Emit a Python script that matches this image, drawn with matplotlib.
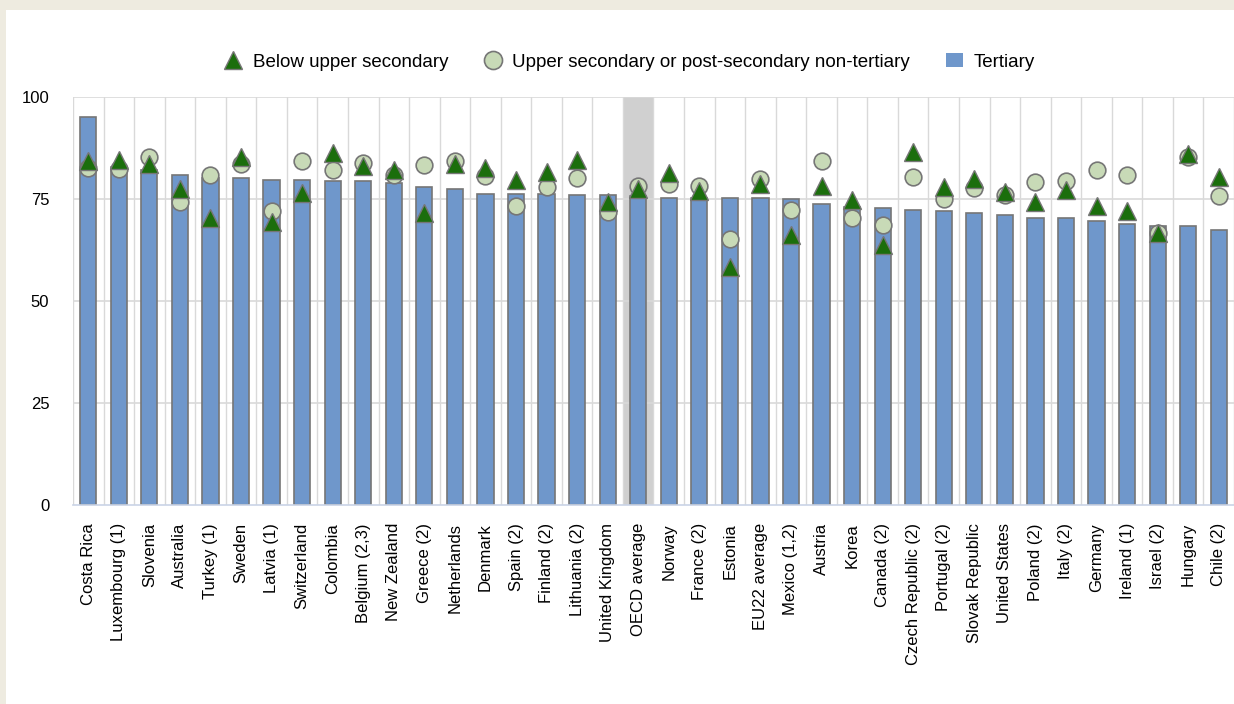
import numpy as np
import matplotlib.pyplot as plt
from matplotlib.patches import Rectangle
from matplotlib.lines import Line2D

plt.rcParams['font.family'] = ['Liberation Sans', 'DejaVu Sans']

countries = ["Costa Rica", "Luxembourg (1)", "Slovenia", "Australia", "Turkey (1)", "Sweden",
             "Latvia (1)", "Switzerland", "Colombia", "Belgium (2,3)", "New Zealand", "Greece (2)",
             "Netherlands", "Denmark", "Spain (2)", "Finland (2)", "Lithuania (2)", "United Kingdom",
             "OECD average", "Norway", "France (2)", "Estonia", "EU22 average", "Mexico (1,2)",
             "Austria", "Korea", "Canada (2)", "Czech Republic (2)", "Portugal (2)", "Slovak Republic",
             "United States", "Poland (2)", "Italy (2)", "Germany", "Ireland (1)", "Israel (2)",
             "Hungary", "Chile (2)"]

tertiary = [95.1, 82.8, 82.2, 80.9, 80.1, 80.1, 79.7, 79.7, 79.4, 79.4, 79.0, 77.9,
            77.5, 76.3, 76.3, 76.3, 76.0, 76.0, 75.7, 75.2, 75.2, 75.2, 75.2, 74.9,
            73.7, 73.0, 72.9, 72.4, 72.0, 71.6, 71.0, 70.3, 70.3, 69.5, 68.8, 68.3,
            68.4, 67.5]

below_upper = [84.2, 84.6, 83.5, 77.5, 70.4, 85.4, 69.3, 76.5, 86.3, 83.2, 82.2, 71.5,
               83.5, 82.7, 79.6, 81.5, 84.5, 74.2, 77.5, 81.4, 76.9, 58.3, 78.7, 66.1,
               78.3, 74.7, 63.8, 86.5, 77.9, 80.0, 76.7, 74.2, 77.3, 73.4, 72.0, 66.6,
               86.1, 80.4]

upper_sec = [82.7, 82.4, 85.4, 74.2, 80.8, 83.6, 72.0, 84.3, 82.2, 83.8, 81.0, 83.4,
             84.3, 80.6, 73.4, 77.9, 80.2, 71.8, 78.3, 78.6, 78.1, 65.2, 79.8, 72.2,
             84.3, 70.4, 68.7, 80.5, 75.1, 77.8, 76.0, 79.2, 79.4, 82.2, 80.8, 66.6,
             85.4, 75.7]

highlight = ["OECD average"]

bar_color = "#6f97cb"
edge_gray = "#767676"
tri_color = "#1b6e0c"
circ_color = "#c8dab7"

fig = plt.figure(figsize=(12.34, 7.04), dpi=100, facecolor="#eeebe0")
# white panel behind the chart
fig.patches.append(Rectangle((6 / 1234, 0), 1 - 6 / 1234, 1 - 10 / 704,
                             transform=fig.transFigure, facecolor="white",
                             edgecolor="none", zorder=-10))

ax = fig.add_axes([73 / 1234, 1 - 505 / 704, 1 - 73 / 1234, (505 - 97) / 704])
ax.set_facecolor("none")

x = np.arange(len(countries))
ax.set_xlim(-0.5, len(countries) - 0.5)
ax.set_ylim(0, 100)

for i, c in enumerate(countries):
    if c in highlight:
        ax.axvspan(i - 0.5, i + 0.5, color="#d0d0d0", zorder=0.5, lw=0)

# grid lines
for b in np.arange(-0.5, len(countries), 1.0):
    ax.plot([b, b], [0, 100], color="#d9d9d9", lw=1, zorder=1)
for yv in [25, 50, 75, 100]:
    ax.axhline(yv, color="#d9d9d9", lw=1.2, zorder=1)

ax.bar(x, tertiary, width=0.53, color=bar_color, edgecolor=edge_gray, linewidth=1.2, zorder=2)
ax.plot(x, upper_sec, linestyle="none", marker="o", markersize=12, markerfacecolor=circ_color,
        markeredgecolor=edge_gray, markeredgewidth=1.2, zorder=3)
ax.plot(x, below_upper, linestyle="none", marker="^", markersize=12.5, markerfacecolor=tri_color,
        markeredgecolor=edge_gray, markeredgewidth=1.0, zorder=4)

for s in ["top", "right", "left"]:
    ax.spines[s].set_visible(False)
ax.spines["bottom"].set_color("#c9d3e6")
ax.spines["bottom"].set_linewidth(1.2)

ax.set_xticks(x)
ax.set_xticklabels(countries, rotation=90, fontsize=12)
ax.set_yticks([0, 25, 50, 75, 100])
ax.set_yticklabels(["0", "25", "50", "75", "100"], fontsize=12)
ax.tick_params(axis="both", length=0)
ax.tick_params(axis="y", pad=17)
ax.tick_params(axis="x", pad=13)

handles = [
    Line2D([], [], linestyle="none", marker="^", markersize=13, markerfacecolor=tri_color,
           markeredgecolor=edge_gray, markeredgewidth=1.0),
    Line2D([], [], linestyle="none", marker="o", markersize=13, markerfacecolor=circ_color,
           markeredgecolor=edge_gray, markeredgewidth=1.2),
    Rectangle((0, 0), 1, 1, facecolor=bar_color, edgecolor="none"),
]
labels = ["Below upper secondary", "Upper secondary or post-secondary non-tertiary", "Tertiary"]
fig.legend(handles, labels, loc="center", bbox_to_anchor=(630 / 1234, 1 - 62 / 704), ncol=3,
           frameon=False, fontsize=13.5, handlelength=0.9, handletextpad=0.6, columnspacing=1.9)

fig.savefig("out.png", dpi=100, facecolor=fig.get_facecolor())
